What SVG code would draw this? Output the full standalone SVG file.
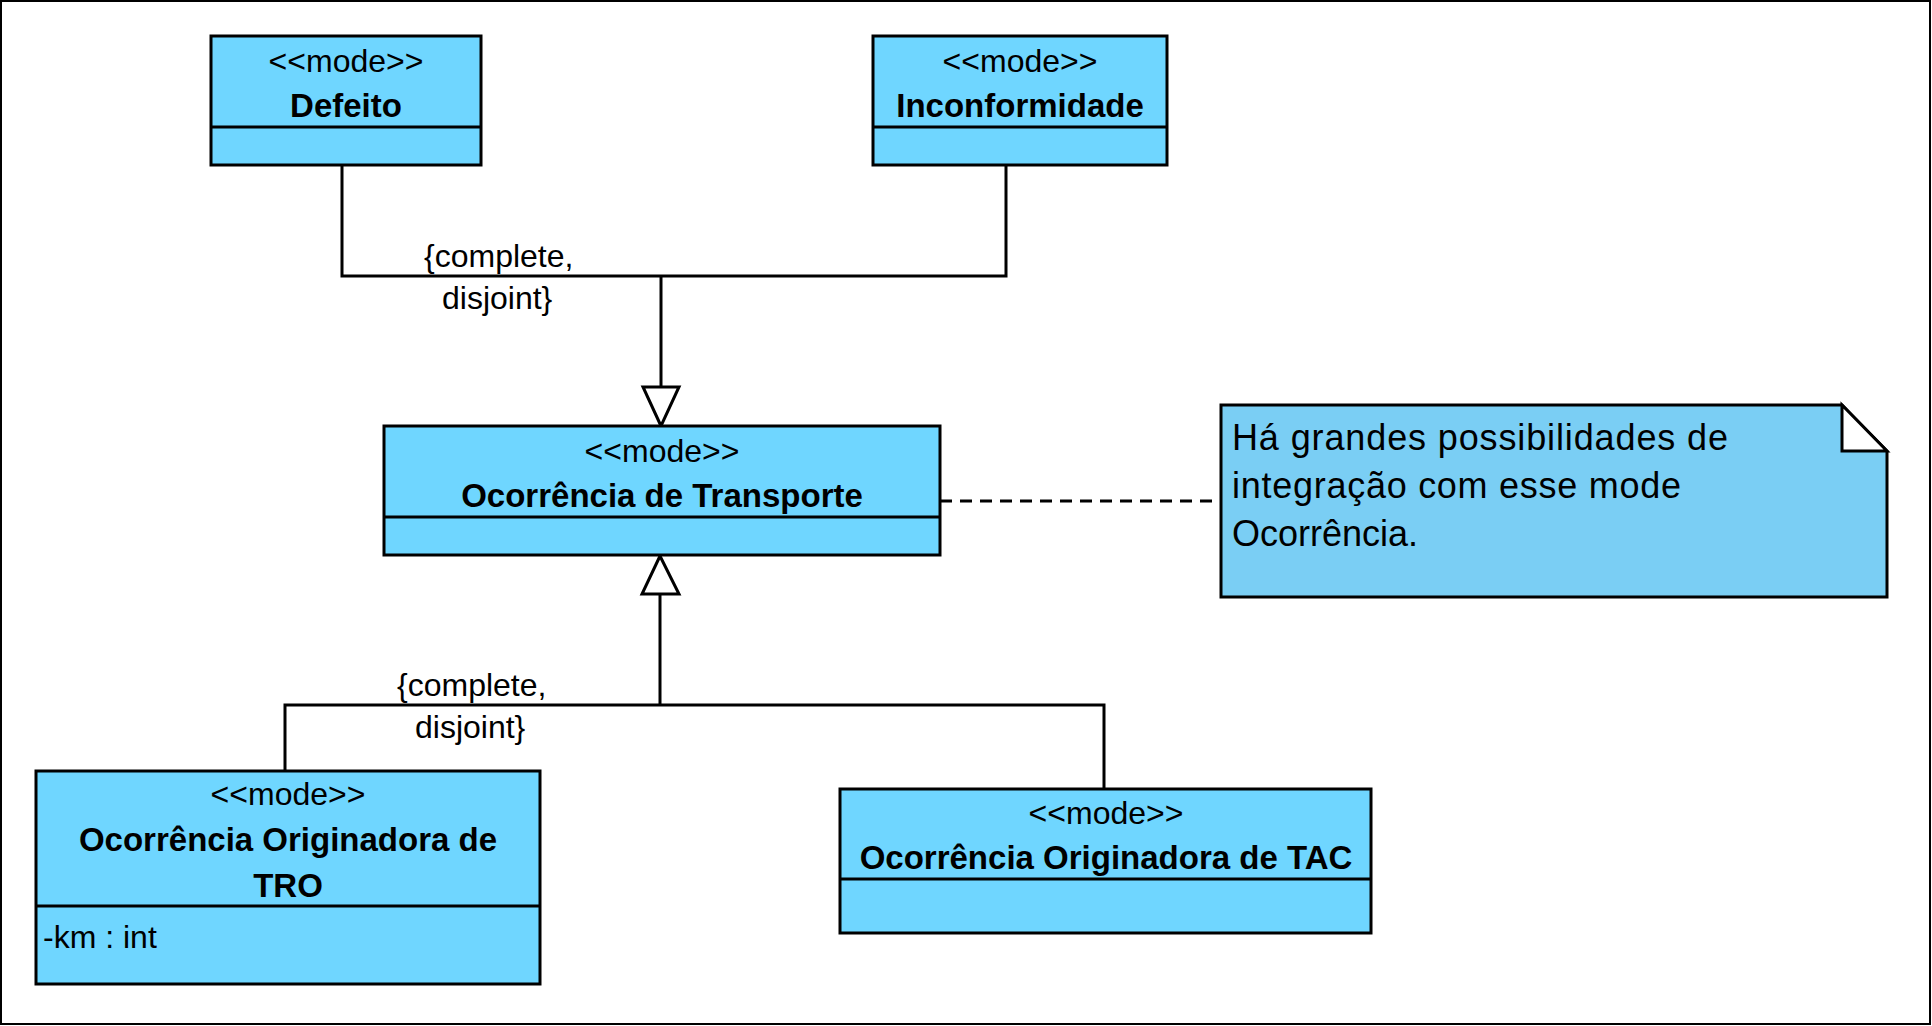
<svg xmlns="http://www.w3.org/2000/svg" width="1932" height="1026" viewBox="0 0 1932 1026">
<style>
  .box { fill: #6FD6FF; stroke: #000; stroke-width: 3; }
  .note { fill: #7ACEF4; stroke: #000; stroke-width: 3; }
  .fold { fill: #fff; stroke: #000; stroke-width: 3; stroke-linejoin: miter; }
  .div { stroke: #000; stroke-width: 3; }
  .st { font-family: "Liberation Sans", Arial, sans-serif; font-size: 32px; fill: #000; text-anchor: middle; }
  .nm { font-family: "Liberation Sans", Arial, sans-serif; font-size: 33px; font-weight: bold; fill: #000; text-anchor: middle; }
  .at { font-family: "Liberation Sans", Arial, sans-serif; font-size: 32px; fill: #000; }
  .lbl { font-family: "Liberation Sans", Arial, sans-serif; font-size: 32px; fill: #000; }
  .nt { font-family: "Liberation Sans", Arial, sans-serif; font-size: 36px; fill: #000; }
  .ln { fill: none; stroke: #000; stroke-width: 3; }
  .tri { fill: #fff; stroke: #000; stroke-width: 3; }
  .dash { fill: none; stroke: #000; stroke-width: 3; stroke-dasharray: 12 8; }
</style>
<rect x="0" y="0" width="1932" height="1026" fill="#fff"/>
<rect x="1" y="1" width="1929" height="1023" fill="none" stroke="#000" stroke-width="2"/>

<g id="connectors">
  <polyline class="ln" points="342,165 342,276 1006,276 1006,165"/>
  <line class="ln" x1="661" y1="276" x2="661" y2="387"/>
  <polygon class="tri" points="661,426 643,387 679,387"/>
  <text class="lbl" x="424" y="267">{complete,</text>
  <text class="lbl" x="442" y="309">disjoint}</text>

  <polyline class="ln" points="285,771 285,705 1104,705 1104,789"/>
  <line class="ln" x1="660" y1="705" x2="660" y2="594"/>
  <polygon class="tri" points="660,556 642,594 679,594"/>
  <text class="lbl" x="397" y="696">{complete,</text>
  <text class="lbl" x="415" y="738">disjoint}</text>

  <line class="dash" x1="940" y1="501" x2="1221" y2="501"/>
</g>

<g id="defeito">
  <rect class="box" x="211" y="36" width="270" height="129"/>
  <line class="div" x1="211" y1="127" x2="481" y2="127"/>
  <text class="st" x="346" y="72">&lt;&lt;mode&gt;&gt;</text>
  <text class="nm" x="346" y="117">Defeito</text>
</g>

<g id="inconformidade">
  <rect class="box" x="873" y="36" width="294" height="129"/>
  <line class="div" x1="873" y1="127" x2="1167" y2="127"/>
  <text class="st" x="1020" y="72">&lt;&lt;mode&gt;&gt;</text>
  <text class="nm" x="1020" y="117">Inconformidade</text>
</g>

<g id="ocorrencia-transporte">
  <rect class="box" x="384" y="426" width="556" height="129"/>
  <line class="div" x1="384" y1="517" x2="940" y2="517"/>
  <text class="st" x="662" y="462">&lt;&lt;mode&gt;&gt;</text>
  <text class="nm" x="662" y="507">Ocorrência de Transporte</text>
</g>

<g id="nota">
  <path class="note" d="M1221,405 L1842,405 L1887,451 L1887,597 L1221,597 Z"/>
  <path class="fold" d="M1842,405 L1887,451 L1842,451 Z"/>
  <text class="nt" x="1232" y="450" textLength="496" lengthAdjust="spacing">Há grandes possibilidades de</text>
  <text class="nt" x="1232" y="498" textLength="449" lengthAdjust="spacing">integração com esse mode</text>
  <text class="nt" x="1232" y="546">Ocorrência.</text>
</g>

<g id="ocorrencia-tro">
  <rect class="box" x="36" y="771" width="504" height="213"/>
  <line class="div" x1="36" y1="906" x2="540" y2="906"/>
  <text class="st" x="288" y="805">&lt;&lt;mode&gt;&gt;</text>
  <text class="nm" x="288" y="851">Ocorrência Originadora de</text>
  <text class="nm" x="288" y="897">TRO</text>
  <text class="at" x="43" y="948">-km : int</text>
</g>

<g id="ocorrencia-tac">
  <rect class="box" x="840" y="789" width="531" height="144"/>
  <line class="div" x1="840" y1="879" x2="1371" y2="879"/>
  <text class="st" x="1106" y="824">&lt;&lt;mode&gt;&gt;</text>
  <text class="nm" x="1106" y="869">Ocorrência Originadora de TAC</text>
</g>
</svg>
